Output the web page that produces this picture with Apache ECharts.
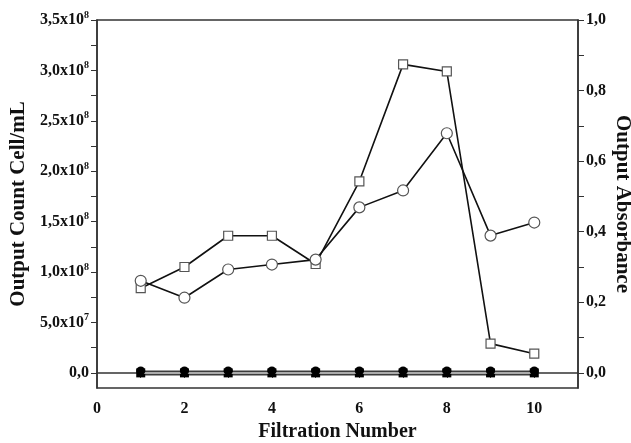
<!DOCTYPE html>
<html>
<head>
<meta charset="utf-8">
<script src="https://cdn.jsdelivr.net/npm/echarts@6/dist/echarts.min.js"></script>
<style>
  html, body { margin: 0; padding: 0; background: #fff; }
  #chart { width: 631px; height: 443px; }
</style>
</head>
<body>
<div id="chart"></div>
<script>
// filtration runs
var filtrations = [1, 2, 3, 4, 5, 6, 7, 8, 9, 10];
// output count (cells/mL) - open squares, left axis
var cellCount = [0.84e8, 1.05e8, 1.36e8, 1.36e8, 1.08e8, 1.90e8, 3.06e8, 2.99e8, 0.29e8, 0.19e8];
// output absorbance - open circles, right axis
var absorbance = [0.261, 0.213, 0.293, 0.307, 0.321, 0.469, 0.517, 0.679, 0.389, 0.426];
// control runs, all at zero
var controlCount = [0, 0, 0, 0, 0, 0, 0, 0, 0, 0];
var controlAbs = [0, 0, 0, 0, 0, 0, 0, 0, 0, 0];

var leftLabels = [0, 0.5e8, 1.0e8, 1.5e8, 2.0e8, 2.5e8, 3.0e8, 3.5e8];
var leftTicks = [0, 0.25e8, 0.5e8, 0.75e8, 1.0e8, 1.25e8, 1.5e8, 1.75e8, 2.0e8, 2.25e8, 2.5e8, 2.75e8, 3.0e8, 3.25e8, 3.5e8];
var rightLabels = [0, 0.2, 0.4, 0.6, 0.8, 1.0];
var rightTicks = [0, 0.1, 0.2, 0.3, 0.4, 0.5, 0.6, 0.7, 0.8, 0.9, 1.0];
var xLabels = [0, 2, 4, 6, 8, 10];
var xTicks = [1, 2, 3, 4, 5, 6, 7, 8, 9, 10];

function pairs(ys) {
  return filtrations.map(function (x, i) { return [x, ys[i]]; });
}

function sciLabel(v) {
  if (v === 0) return '{m|0,0}';
  var e = Math.floor(Math.log10(v) + 1e-9);
  var m = (v / Math.pow(10, e)).toFixed(1).replace('.', ',');
  return '{m|' + m + 'x10}{s|' + e + '}';
}

var font = '"Liberation Serif", "Times New Roman", serif';
var axisCol = '#333';
var txt = '#111';

var chart = echarts.init(document.getElementById('chart'));

chart.setOption({
  animation: false,
  backgroundColor: '#fff',
  grid: {
    left: 97, right: 53, top: 20, bottom: 55,
    outerBoundsMode: 'none',
    containLabel: false,
    show: true, borderColor: axisCol, borderWidth: 1.5
  },
  xAxis: {
    type: 'value',
    min: 0, max: 11,
    name: 'Filtration Number',
    nameLocation: 'middle',
    nameGap: 34,
    nameTextStyle: { fontFamily: font, fontWeight: 'bold', fontSize: 20, color: txt },
    axisLine: { lineStyle: { color: axisCol, width: 1.5 } },
    axisTick: { customValues: xTicks, length: 5, lineStyle: { color: axisCol } },
    axisLabel: { customValues: xLabels, fontFamily: font, fontWeight: 'bold', fontSize: 16, color: txt, margin: 13 },
    splitLine: { show: false }
  },
  yAxis: [
    {
      type: 'value',
      min: -0.15e8, max: 3.5e8,
      name: 'Output Count Cell/mL',
      nameLocation: 'middle',
      nameGap: 68,
      nameMoveOverlap: false,
      nameTextStyle: { fontFamily: font, fontWeight: 'bold', fontSize: 21, color: txt },
      axisLine: { show: true, lineStyle: { color: axisCol, width: 1.5 } },
      axisTick: { customValues: leftTicks, length: 6, lineStyle: { color: axisCol } },
      axisLabel: {
        customValues: leftLabels,
        margin: 8,
        formatter: sciLabel,
        rich: {
          m: { fontFamily: font, fontWeight: 'bold', fontSize: 16, color: txt },
          s: { fontFamily: font, fontWeight: 'bold', fontSize: 10, color: txt, padding: [0, 0, 10, 0] }
        }
      },
      splitLine: { show: false }
    },
    {
      type: 'value',
      min: -0.15 / 3.5, max: 1.0,
      position: 'right',
      name: 'Output Absorbance',
      nameLocation: 'middle',
      nameGap: 34,
      nameMoveOverlap: false,
      nameRotate: -90,
      nameTextStyle: { fontFamily: font, fontWeight: 'bold', fontSize: 21, color: txt },
      axisLine: { show: true, lineStyle: { color: axisCol, width: 1.5 } },
      axisTick: { customValues: rightTicks, length: 6, lineStyle: { color: axisCol } },
      axisLabel: {
        customValues: rightLabels,
        margin: 8,
        formatter: function (v) { return v.toFixed(1).replace('.', ','); },
        fontFamily: font, fontWeight: 'bold', fontSize: 16, color: txt
      },
      splitLine: { show: false }
    }
  ],
  series: [
    {
      name: 'control count',
      type: 'line',
      yAxisIndex: 0,
      data: pairs(controlCount),
      symbol: 'rect',
      symbolSize: 9,
      itemStyle: { color: '#000' },
      lineStyle: { color: '#3c3c3c', width: 5 },
      z: 2
    },
    {
      name: 'control absorbance',
      type: 'line',
      yAxisIndex: 1,
      data: pairs(controlAbs),
      symbol: 'circle',
      symbolSize: 9,
      symbolOffset: [0, -2],
      itemStyle: { color: '#000' },
      lineStyle: { color: '#d0d0d0', width: 1.5 },
      z: 3
    },
    {
      name: 'cell count',
      type: 'line',
      yAxisIndex: 0,
      data: pairs(cellCount),
      symbol: 'rect',
      symbolSize: 9,
      itemStyle: { color: '#fff', borderColor: '#555', borderWidth: 1.2 },
      lineStyle: { color: '#111', width: 1.6 },
      z: 4
    },
    {
      name: 'absorbance',
      type: 'line',
      yAxisIndex: 1,
      data: pairs(absorbance),
      symbol: 'circle',
      symbolSize: 11,
      itemStyle: { color: '#fff', borderColor: '#555', borderWidth: 1.2 },
      lineStyle: { color: '#111', width: 1.6 },
      z: 4
    }
  ]
});
</script>
</body>
</html>
